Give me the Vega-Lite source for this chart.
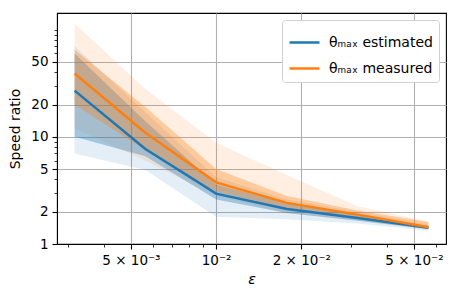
{
  "$schema": "https://vega.github.io/schema/vega-lite/v6.json",
  "width": 389,
  "height": 231,
  "autosize": "none",
  "padding": {"left": 57, "top": 13, "right": 12, "bottom": 58},
  "background": "white",
  "config": {
    "font": "DejaVu Sans",
    "view": {"stroke": "black", "strokeWidth": 1.1},
    "axis": {"labelFont": "DejaVu Sans", "titleFont": "DejaVu Sans", "labelFontSize": 13.5, "titleFontSize": 14, "titleFontWeight": "normal", "labelColor": "black", "titleColor": "black", "domainColor": "black", "tickColor": "black", "gridColor": "#b0b0b0", "gridWidth": 1.1, "labelPadding": 4, "labelOverlap": false, "labelFlush": false},
    "legend": {"labelFont": "DejaVu Sans", "labelFontSize": 14, "labelColor": "black"}
  },
  "data": {"values": [
    {"eps": 0.003162, "series": "θₘₐₓ estimated", "mid": 27, "lo_in": 10, "hi_in": 60, "lo_out": 7, "hi_out": 70},
    {"eps": 0.005623, "series": "θₘₐₓ estimated", "mid": 7.7, "lo_in": 6.6, "hi_in": 14, "lo_out": 4.9, "hi_out": 17},
    {"eps": 0.01, "series": "θₘₐₓ estimated", "mid": 2.95, "lo_in": 2.6, "hi_in": 3.6, "lo_out": 1.8, "hi_out": 4.2},
    {"eps": 0.01778, "series": "θₘₐₓ estimated", "mid": 2.12, "lo_in": 1.95, "hi_in": 2.4, "lo_out": 1.7, "hi_out": 2.6},
    {"eps": 0.03162, "series": "θₘₐₓ estimated", "mid": 1.75, "lo_in": 1.65, "hi_in": 1.9, "lo_out": 1.55, "hi_out": 2.0},
    {"eps": 0.05623, "series": "θₘₐₓ estimated", "mid": 1.42, "lo_in": 1.38, "hi_in": 1.47, "lo_out": 1.33, "hi_out": 1.52},
    {"eps": 0.003162, "series": "θₘₐₓ measured", "mid": 39, "lo_in": 20, "hi_in": 65, "lo_out": 12, "hi_out": 114},
    {"eps": 0.005623, "series": "θₘₐₓ measured", "mid": 10.9, "lo_in": 7.5, "hi_in": 19, "lo_out": 6, "hi_out": 28},
    {"eps": 0.01, "series": "θₘₐₓ measured", "mid": 3.76, "lo_in": 3.1, "hi_in": 5.0, "lo_out": 2.8, "hi_out": 8.8},
    {"eps": 0.01778, "series": "θₘₐₓ measured", "mid": 2.42, "lo_in": 2.15, "hi_in": 2.8, "lo_out": 1.95, "hi_out": 4.4},
    {"eps": 0.03162, "series": "θₘₐₓ measured", "mid": 1.88, "lo_in": 1.75, "hi_in": 2.05, "lo_out": 1.65, "hi_out": 2.25},
    {"eps": 0.05623, "series": "θₘₐₓ measured", "mid": 1.43, "lo_in": 1.38, "hi_in": 1.6, "lo_out": 1.36, "hi_out": 1.62}
  ]},
  "encoding": {
    "x": {"field": "eps", "type": "quantitative",
      "scale": {"type": "log", "domain": [0.00274, 0.0649], "nice": false},
      "axis": {"title": "ε", "titleFontStyle": "italic", "titlePadding": 6,
        "values": [0.003, 0.004, 0.005, 0.006, 0.007, 0.008, 0.009, 0.01, 0.02, 0.03, 0.04, 0.05, 0.06],
        "labelExpr": "datum.value == 0.005 ? '5 × 10⁻³' : datum.value == 0.01 ? '10⁻²' : datum.value == 0.02 ? '2 × 10⁻²' : datum.value == 0.05 ? '5 × 10⁻²' : ''",
        "tickSize": {"condition": {"test": "indexof([0.005, 0.01, 0.02, 0.05], datum.value) >= 0", "value": 5}, "value": 3},
        "tickWidth": {"condition": {"test": "indexof([0.005, 0.01, 0.02, 0.05], datum.value) >= 0", "value": 1.1}, "value": 0.8},
        "gridOpacity": {"condition": {"test": "indexof([0.005, 0.01, 0.02, 0.05], datum.value) >= 0", "value": 1}, "value": 0}
      }},
    "color": {"field": "series", "type": "nominal",
      "scale": {"domain": ["θₘₐₓ estimated", "θₘₐₓ measured"], "range": ["#1f77b4", "#ff7f0e"]},
      "legend": {"title": null, "orient": "top-right", "offset": 7, "padding": 6,
           "fillColor": "white", "strokeColor": "#d0d0d0", "cornerRadius": 3,
           "symbolType": "stroke", "symbolSize": 900, "symbolStrokeWidth": 2.5, "symbolOpacity": 1,
           "rowPadding": 2, "labelOffset": 8}}
  },
  "layer": [
    {"mark": {"type": "area", "opacity": 0.12},
     "encoding": {
       "y": {"field": "lo_out", "type": "quantitative",
         "scale": {"type": "log", "domain": [1, 143], "nice": false},
         "axis": {"title": "Speed ratio", "titlePadding": 8,
           "values": [1, 2, 3, 4, 5, 6, 7, 8, 9, 10, 20, 30, 40, 50, 60, 70, 80, 90, 100],
           "labelExpr": "indexof([1, 2, 5, 10, 20, 50], datum.value) >= 0 ? datum.label : ''",
           "tickSize": {"condition": {"test": "indexof([1, 2, 5, 10, 20, 50], datum.value) >= 0", "value": 5}, "value": 3},
           "tickWidth": {"condition": {"test": "indexof([1, 2, 5, 10, 20, 50], datum.value) >= 0", "value": 1.1}, "value": 0.8},
           "gridOpacity": {"condition": {"test": "indexof([1, 2, 5, 10, 20, 50], datum.value) >= 0", "value": 1}, "value": 0}
         }},
       "y2": {"field": "hi_out"}
     }},
    {"mark": {"type": "area", "opacity": 0.33},
     "encoding": {
       "y": {"field": "lo_in", "type": "quantitative"},
       "y2": {"field": "hi_in"}
     }},
    {"mark": {"type": "line", "strokeWidth": 2.5},
     "encoding": {
       "y": {"field": "mid", "type": "quantitative"}
     }}
  ]
}
